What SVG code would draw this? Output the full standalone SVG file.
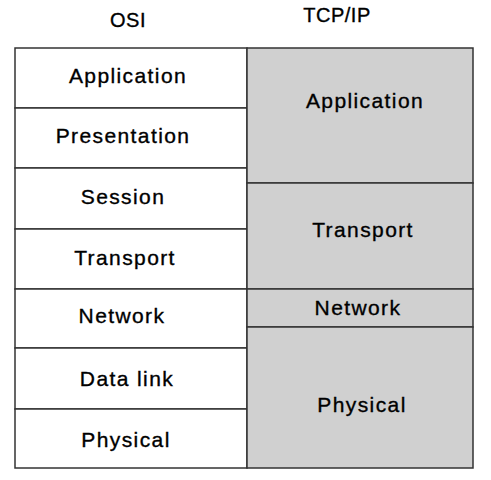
<svg xmlns="http://www.w3.org/2000/svg" width="491" height="480" viewBox="0 0 491 480">
<style>
.osi{fill:#ffffff;stroke:#333333;stroke-width:1.5}
.tcp{fill:#d0d0d0;stroke:#333333;stroke-width:1.5}
text{font-family:"Liberation Sans",Arial,sans-serif;font-size:21px;fill:#000;text-anchor:middle;letter-spacing:1.4px;stroke:#000;stroke-width:0.35}
.hdr{font-size:20px;letter-spacing:0.5px}
</style>
<rect width="491" height="480" fill="#ffffff"/>
<g id="headers">
<text class="hdr" x="128" y="27">OSI</text>
<text class="hdr" x="337" y="22">TCP/IP</text>
</g>
<g id="osi-application"><rect class="osi" x="15" y="48" width="232" height="60"/><text x="128" y="83">Application</text></g>
<g id="osi-presentation"><rect class="osi" x="15" y="108" width="232" height="60"/><text x="123" y="143">Presentation</text></g>
<g id="osi-session"><rect class="osi" x="15" y="168" width="232" height="61"/><text x="123" y="204">Session</text></g>
<g id="osi-transport"><rect class="osi" x="15" y="229" width="232" height="60"/><text x="125" y="265">Transport</text></g>
<g id="osi-network"><rect class="osi" x="15" y="289" width="232" height="59"/><text x="122" y="323">Network</text></g>
<g id="osi-datalink"><rect class="osi" x="15" y="348" width="232" height="61"/><text x="127" y="386">Data link</text></g>
<g id="osi-physical"><rect class="osi" x="15" y="409" width="232" height="59"/><text x="126" y="447">Physical</text></g>
<g id="tcp-application"><rect class="tcp" x="247" y="48" width="226" height="135"/><text x="365" y="108">Application</text></g>
<g id="tcp-transport"><rect class="tcp" x="247" y="183" width="226" height="106"/><text x="363" y="237">Transport</text></g>
<g id="tcp-network"><rect class="tcp" x="247" y="289" width="226" height="38"/><text x="358" y="315">Network</text></g>
<g id="tcp-physical"><rect class="tcp" x="247" y="327" width="226" height="141"/><text x="362" y="412">Physical</text></g>
<g id="connectors"></g>
</svg>
